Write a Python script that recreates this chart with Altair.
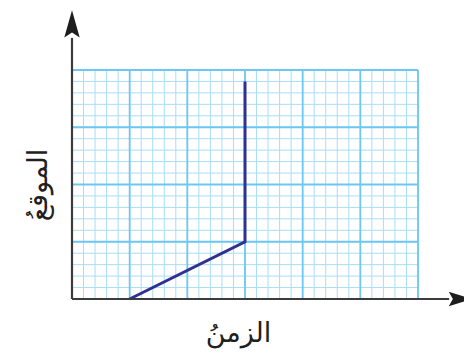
import altair as alt
import pandas as pd

# data
line_x = [5, 15, 15]
line_y = [0, 5, 19]
minor_x = list(range(0, 31))
minor_y = list(range(0, 21))
major_x = [0, 5, 10, 15, 20, 25, 30]
major_y = [0, 5, 10, 15, 20]
x_title = "الزمنُ"
y_title = "الموقعُ"
# axis extents (data units) and arrow head positions
x_axis_end = 32.7
y_axis_end = 22.8
x_arrow_at = 33.64
y_arrow_at = 24.0

xs = alt.Scale(domain=[0, 30], nice=False, zero=False)
ys = alt.Scale(domain=[0, 20], nice=False, zero=False)

x_ax = alt.Axis(title=x_title, labels=False, ticks=False, domain=False, grid=False,
                titleFont="DejaVu Sans", titleFontSize=27, titleFontWeight="normal",
                titleColor="#231f20", titlePadding=21, titleX=166)
y_ax = alt.Axis(title=y_title, labels=False, ticks=False, domain=False, grid=False,
                titleFont="DejaVu Sans", titleFontSize=27, titleFontWeight="normal",
                titleColor="#231f20", titlePadding=20)


def X(f):
    return alt.X(f, scale=xs, axis=x_ax, title=x_title)


def Y(f):
    return alt.Y(f, scale=ys, axis=y_ax, title=y_title)


minor_v = alt.Chart(pd.DataFrame({"x": minor_x, "y0": 0, "y1": 20})).mark_rule(
    color="#a9ddf6", strokeWidth=1
).encode(x=X("x:Q"), y=Y("y0:Q"), y2="y1:Q")

minor_h = alt.Chart(pd.DataFrame({"y": minor_y, "x0": 0, "x1": 30})).mark_rule(
    color="#a9ddf6", strokeWidth=1
).encode(y=Y("y:Q"), x=X("x0:Q"), x2="x1:Q")

major_v = alt.Chart(pd.DataFrame({"x": major_x, "y0": 0, "y1": 20})).mark_rule(
    color="#6cc8f2", strokeWidth=1.8
).encode(x=X("x:Q"), y=Y("y0:Q"), y2="y1:Q")

major_h = alt.Chart(pd.DataFrame({"y": major_y, "x0": 0, "x1": 30})).mark_rule(
    color="#6cc8f2", strokeWidth=1.8
).encode(y=Y("y:Q"), x=X("x0:Q"), x2="x1:Q")

x_axis = alt.Chart(pd.DataFrame({"x0": [0], "x1": [x_axis_end], "y": [0]})).mark_rule(
    color="#3c3c3c", strokeWidth=2.2
).encode(x=X("x0:Q"), x2="x1:Q", y=Y("y:Q"))

y_axis = alt.Chart(pd.DataFrame({"y0": [0], "y1": [y_axis_end], "x": [0]})).mark_rule(
    color="#3c3c3c", strokeWidth=2.2
).encode(y=Y("y0:Q"), y2="y1:Q", x=X("x:Q"))

x_arrow = alt.Chart(pd.DataFrame({"x": [x_arrow_at], "y": [0]})).mark_point(
    shape="M1,0 L-0.95,-0.62 L-0.6,0 L-0.95,0.62 Z", size=560, filled=True, color="#1e1e1e", opacity=1
).encode(x=X("x:Q"), y=Y("y:Q"))

y_arrow = alt.Chart(pd.DataFrame({"x": [0], "y": [y_arrow_at]})).mark_point(
    shape="M0,-1 L0.55,0.95 L0,0.6 L-0.55,0.95 Z", size=784, filled=True, color="#1e1e1e", opacity=1
).encode(x=X("x:Q"), y=Y("y:Q"))

path = alt.Chart(pd.DataFrame({"x": line_x, "y": line_y, "o": [0, 1, 2]})).mark_line(
    color="#2e3192", strokeWidth=3
).encode(x=X("x:Q"), y=Y("y:Q"), order="o:O")

chart = alt.layer(
    minor_v, minor_h, major_v, major_h, path, x_axis, y_axis, x_arrow, y_arrow
).properties(
    width=346, height=229,
    autosize=alt.AutoSizeParams(type="none"),
    padding={"left": 64, "top": 62, "right": 46, "bottom": 56},
).configure_view(stroke=None).configure(background="white")

chart.save("out.html", embed_options={"renderer": "svg", "actions": False})
